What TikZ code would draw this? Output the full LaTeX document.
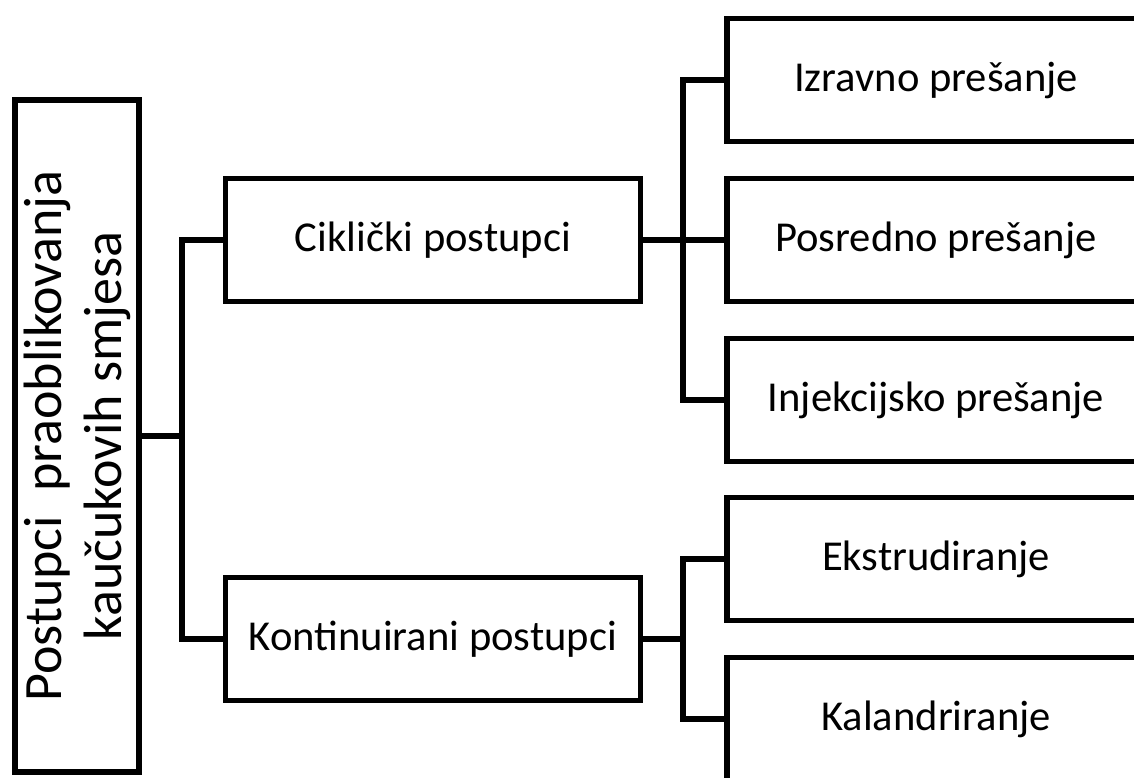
\documentclass[tikz,border=0pt]{standalone}
\usepackage{fontspec}
\setmainfont{Carlito}
\begin{document}
\begin{tikzpicture}[x=1pt,y=-1pt,
  line width=5.5pt,
  box/.style={draw, inner sep=0pt, minimum width=415pt, minimum height=123pt,
    font=\fontsize{42.6}{50}\selectfont},
  leaf/.style={draw, inner sep=0pt, minimum width=418pt, minimum height=123pt,
    font=\fontsize{42.6}{50}\selectfont},
  rootbox/.style={draw, inner sep=0pt, rotate=90, align=center,
    minimum width=672pt, minimum height=124pt,
    font=\fontsize{54}{60}\selectfont}]
\useasboundingbox (0,0) rectangle (1134,778);
\clip (0,0) rectangle (1134,778);

\node[rootbox] (root) at (77,436) {Postupci~~praoblikovanja\\kaučukovih smjesa};

\node[box] (cyc) at (433,240) {Ciklički postupci};
\node[box] (cont) at (433,639) {Kontinuirani postupci};

\node[leaf] (p1) at (936,80) {Izravno prešanje};
\node[leaf] (p2) at (936,240) {Posredno prešanje};
\node[leaf] (p3) at (936,400) {Injekcijsko prešanje};
\node[leaf] (k1) at (936,559) {Ekstrudiranje};
\node[leaf] (k2) at (936,719) {Kalandriranje};

\coordinate (s1) at (182,436);
\coordinate (s2) at (683,240);
\coordinate (s3) at (683,639);

\draw (root.south) -- (s1);
\draw (cyc.west) -| (s1) |- (cont.west);

\draw (cyc.east) -- (p2.west);
\draw (p1.west) -| (s2) |- (p3.west);

\draw (cont.east) -- (s3);
\draw (k1.west) -| (s3) |- (k2.west);
\end{tikzpicture}
\end{document}
